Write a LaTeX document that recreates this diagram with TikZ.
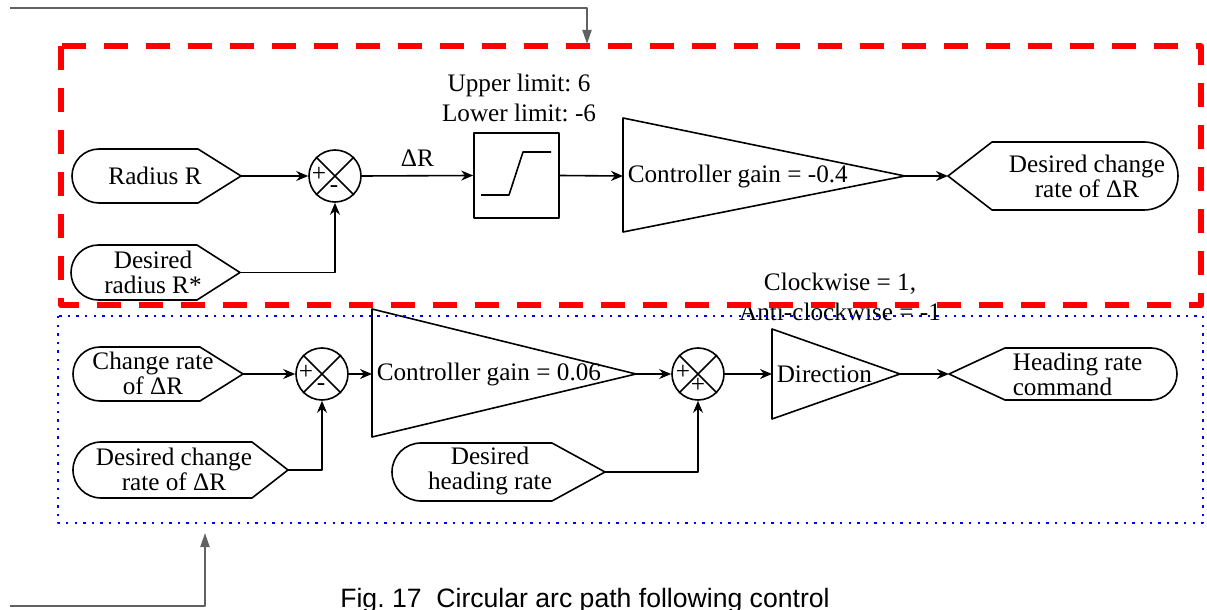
\documentclass[tikz,border=0pt]{standalone}
\usepackage{fontspec}
\setmainfont{Liberation Serif}
\newfontfamily\capfont{Liberation Sans}
\usetikzlibrary{arrows.meta}
\frenchspacing

% port shapes: #1 round end, #2 start of slant, #3 tip, #4 top, #5 bottom (y measured downwards)
\newcommand{\inport}[5]{%
  \draw (#2,-#4)--(#3,{-(#4+#5)/2})--(#2,-#5)--({#1+(#5-#4)/2},-#5)
    arc[start angle=270,end angle=90,radius={(#5-#4)/2}]--cycle;}
\newcommand{\outport}[5]{%
  \draw (#2,-#4)--(#1,{-(#4+#5)/2})--(#2,-#5)--({#3-(#5-#4)/2},-#5)
    arc[start angle=-90,end angle=90,radius={(#5-#4)/2}]--cycle;}

\tikzset{
  sumj/.style={draw,circle,minimum size=26pt,inner sep=0pt},
  sgn/.style={inner sep=0pt,font=\fontsize{12.6}{14}\selectfont},
  txt/.style={align=center,inner sep=1pt,font=\fontsize{12.6}{12.5}\selectfont},
  note/.style={align=center,inner sep=1pt,font=\fontsize{12.6}{15}\selectfont},
  feedback/.style={draw=black!62,line width=1pt,-{Triangle[length=7pt,width=4.5pt]}},
  redframe/.style={draw=red,line width=3pt,dash pattern=on 12pt off 9pt},
  blueframe/.style={draw=blue,line width=1.2pt,dash pattern=on 1.2pt off 3.1pt},
}

\begin{document}
\begin{tikzpicture}[x=0.5pt,y=0.5pt,line width=0.8pt,line join=round,
    >={Stealth[length=6pt,width=5pt]}]
  \useasboundingbox (0,0) rectangle (1207,-610);

  % radius loop
  \inport{72}{198}{241}{149}{203}
  \node[txt] (radius) at (155,-176) {Radius R};
  \coordinate (radiusOut) at (241,-176);
  \inport{71}{197}{240}{245}{300}
  \node[txt] (radiusRef) at (153,-272) {Desired\\radius R*};
  \coordinate (radiusRefOut) at (240,-272.5);

  \node[sumj] (sumR) at (335,-176) {};
  \draw (sumR.north west)--(sumR.south east) (sumR.north east)--(sumR.south west);
  \node[sgn] (sumRa) at ([shift={(-16,2)}]sumR.center) {+};
  \node[sgn] (sumRb) at ([shift={(-1,-13)}]sumR.center) {-};

  \node[draw,minimum size=42.5pt,inner sep=0pt] (sat) at (516.5,-175.5) {};
  \draw (481,-195)--(509,-195)--(523,-152)--(551,-152);
  \node[note] (limits) at (519,-98) {Upper limit: 6\\Lower limit: -6};

  \coordinate (gainRin) at (623,-176);
  \coordinate (gainRout) at (905,-176);
  \draw (623,-118)--(gainRout)--(623,-232)--cycle;
  \node[txt,anchor=west] (gainRtxt) at (625,-176) {Controller gain = -0.4};

  \outport{948}{992}{1178}{142}{210}
  \node[txt] (rateCmd) at (1087,-176) {Desired change\\rate of ΔR};
  \coordinate (rateCmdIn) at (948,-176);

  \draw[->] (radiusOut)--(sumR.west);
  \draw[->] (radiusRefOut)-|(sumR.south);
  \draw[->] (sumR.east)--node[txt,above=3pt] (dR) {ΔR} (sat.west);
  \draw[->] (sat.east)--(gainRin);
  \draw[->] (gainRout)--(rateCmdIn);

  % heading rate loop
  \inport{73}{200}{243}{347}{401}
  \node[txt] (rate) at (153,-373) {Change rate\\of ΔR};
  \coordinate (rateOut) at (243,-374);
  \inport{73}{252}{288}{442}{498}
  \node[txt] (rateRef) at (174,-469) {Desired change\\rate of ΔR};
  \coordinate (rateRefOut) at (288,-470);

  \node[sumj] (sumV) at (322,-374) {};
  \draw (sumV.north west)--(sumV.south east) (sumV.north east)--(sumV.south west);
  \node[sgn] (sumVa) at ([shift={(-16,2)}]sumV.center) {+};
  \node[sgn] (sumVb) at ([shift={(-1,-13)}]sumV.center) {-};

  \coordinate (gainVin) at (372,-374);
  \coordinate (gainVout) at (636,-374);
  \draw (372,-309)--(gainVout)--(372,-437)--cycle;
  \node[txt,anchor=west] (gainVtxt) at (374,-374) {Controller gain = 0.06};

  \node[sumj] (sumH) at (698,-374) {};
  \draw (sumH.north west)--(sumH.south east) (sumH.north east)--(sumH.south west);
  \node[sgn] (sumHa) at ([shift={(-15,2)}]sumH.center) {+};
  \node[sgn] (sumHb) at ([shift={(0,-11)}]sumH.center) {+};

  \inport{392}{552}{605}{443}{501}
  \node[txt] (headRef) at (490,-471) {Desired\\heading rate};
  \coordinate (headRefOut) at (605,-472);

  \coordinate (dirIn) at (772,-374);
  \coordinate (dirOut) at (900,-374);
  \draw (772,-329)--(dirOut)--(772,-419)--cycle;
  \node[txt,anchor=west] (dirTxt) at (774,-374) {Direction};
  \node[note] (dirNote) at (840,-297) {Clockwise = 1,\\Anti-clockwise = -1};

  \outport{949}{1005}{1177}{348}{400}
  \node[txt,anchor=west,align=left] (headCmd) at (1010,-374) {Heading rate\\command};
  \coordinate (headCmdIn) at (949,-374);

  \draw[->] (rateOut)--(sumV.west);
  \draw[->] (rateRefOut)-|(sumV.south);
  \draw[->] (sumV.east)--(gainVin);
  \draw[->] (gainVout)--(sumH.west);
  \draw[->] (headRefOut)-|(sumH.south);
  \draw[->] (sumH.east)--(dirIn);
  \draw[->] (dirOut)--(headCmdIn);

  % outer feedback lines
  \coordinate (fbTop) at (10,-8);
  \coordinate (redTop) at (587,-44);
  \draw[feedback] (fbTop)-|(redTop);
  \coordinate (fbBot) at (10,-606);
  \coordinate (blueBot) at (205,-533);
  \draw[feedback] (fbBot)-|(blueBot);

  \draw[redframe] (61,-46.5) rectangle (1201,-305);
  \draw[blueframe] (58,-316) rectangle (1203,-523);

  \node[font=\capfont\fontsize{13.3}{16}\selectfont,anchor=base,inner sep=0pt] (caption)
    at (585,-607) {Fig. 17\ \ Circular arc path following control};
\end{tikzpicture}
\end{document}
